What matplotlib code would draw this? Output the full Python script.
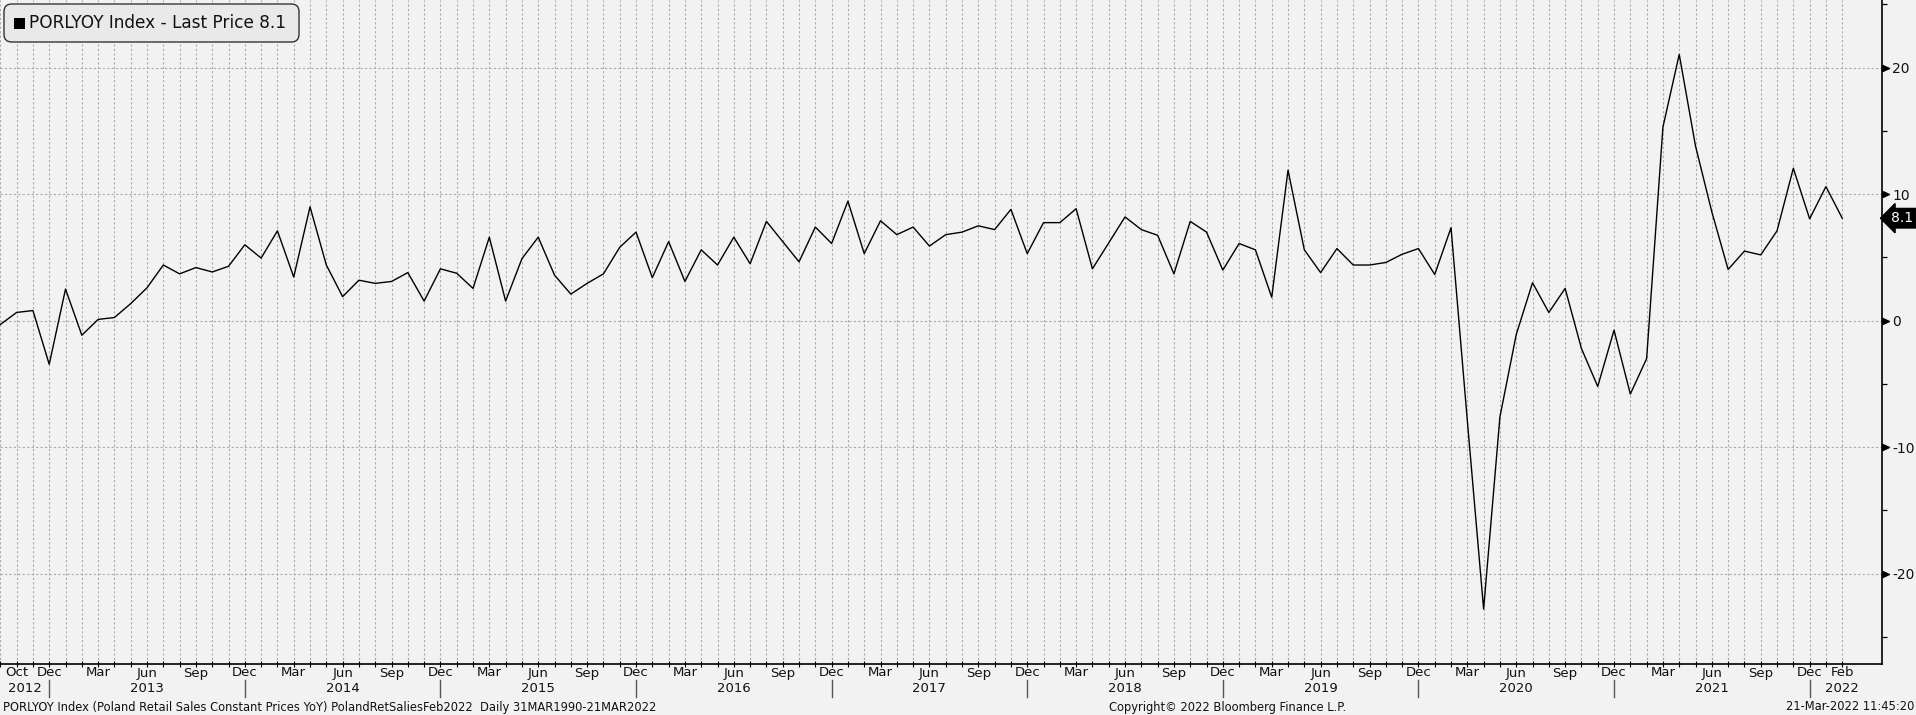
import matplotlib
matplotlib.use("Agg")
import matplotlib.pyplot as plt
import matplotlib.transforms as mtransforms
from matplotlib.path import Path
from matplotlib.patches import FancyBboxPatch, Rectangle
import numpy as np

# ---------------- data (Poland retail sales, constant prices, YoY %) ----------------
start_year, start_month = 2012, 9
y2012 = [-0.3, 0.65, 0.8, -3.45]
y2013 = [2.5, -1.15, 0.1, 0.25, 1.35, 2.6, 4.4, 3.7, 4.2, 3.85, 4.3, 6.0]
y2014 = [4.95, 7.1, 3.45, 9.0, 4.4, 1.9, 3.2, 2.95, 3.1, 3.8, 1.55, 4.1]
y2015 = [3.75, 2.55, 6.6, 1.55, 4.9, 6.6, 3.6, 2.1, 2.95, 3.7, 5.8, 7.0]
y2016 = [3.4, 6.25, 3.1, 5.6, 4.4, 6.6, 4.5, 7.85, 6.25, 4.65, 7.4, 6.1]
y2017 = [9.45, 5.3, 7.9, 6.8, 7.4, 5.9, 6.8, 7.0, 7.5, 7.2, 8.8, 5.3]
y2018 = [7.75, 7.75, 8.85, 4.1, 6.15, 8.2, 7.2, 6.75, 3.7, 7.85, 7.0, 4.0]
y2019 = [6.1, 5.6, 1.85, 11.9, 5.6, 3.8, 5.7, 4.4, 4.4, 4.6, 5.25, 5.7]
y2020 = [3.65, 7.35, -7.9, -22.8, -7.6, -1.1, 3.0, 0.65, 2.55, -2.2, -5.2, -0.75]
y2021 = [-5.8, -3.0, 15.3, 21.05, 13.8, 8.6, 4.05, 5.5, 5.2, 7.1, 12.05, 8.05]
y2022 = [10.6, 8.1]

month_names = ["Jan", "Feb", "Mar", "Apr", "May", "Jun",
               "Jul", "Aug", "Sep", "Oct", "Nov", "Dec"]
y_ticks = [-20, -10, 0, 10, 20]
last_price = 8.1
legend_label = "PORLYOY Index - Last Price 8.1"
footer_left = ("PORLYOY Index (Poland Retail Sales Constant Prices YoY) "
               "PolandRetSaliesFeb2022  Daily 31MAR1990-21MAR2022")
footer_mid = "Copyright\u00a9 2022 Bloomberg Finance L.P."
footer_right = "21-Mar-2022 11:45:20"

values = np.array(y2012 + y2013 + y2014 + y2015 + y2016 + y2017 +
                  y2018 + y2019 + y2020 + y2021 + y2022)
n = len(values)
idx = np.arange(n)
mon = [(start_month - 1 + i) % 12 + 1 for i in idx]
yr = [start_year + (start_month - 1 + i) // 12 for i in idx]

# ---------------- figure ----------------
W, H = 1916, 715
BG = "#f2f2f2"
TXT = "#111111"
fig = plt.figure(figsize=(W / 100, H / 100), dpi=100, facecolor=BG)
plt.rcParams["font.family"] = ["DejaVu Sans"]

ax_right_px, ax_bottom_px = 1882, 664
ax = fig.add_axes([0, (H - ax_bottom_px) / H, ax_right_px / W, ax_bottom_px / H])
ax.set_facecolor(BG)

ax.plot(idx, values, color="black", lw=1.0, zorder=3)

ax.set_xlim(-0.02, 115.44)
ax.set_ylim(-27.14, 25.35)

# grid
for i in idx:
    ax.axvline(i, color="#aaaaaa", lw=0.8, ls=(0, (2, 2)), zorder=1)
for v in y_ticks:
    ax.axhline(v, color="#aaaaaa", lw=0.8, ls=(0, (2, 2)), zorder=1)

# spines
for s in ["top", "left"]:
    ax.spines[s].set_visible(False)
for s in ["bottom", "right"]:
    ax.spines[s].set_color("black")
    ax.spines[s].set_linewidth(1.2)

# x ticks at every month (inout), no labels
ax.set_xticks(idx)
ax.set_xticklabels([])
ax.tick_params(axis="x", direction="inout", length=5, width=0.8, color="black")

# y ticks on the right
ax.yaxis.tick_right()
ax.set_yticks(y_ticks)
ax.set_yticklabels([str(v) for v in y_ticks])
ax.set_yticks([-25, -15, -5, 5, 15, 25], minor=True)
ax.tick_params(axis="y", which="major", length=0, pad=7.5, labelsize=10, labelcolor=TXT)
ax.tick_params(axis="y", which="minor", direction="out", length=3.5, width=0.9, color="black")

# triangular major tick markers
tri = Path([(0, -0.5), (1.1, 0), (0, 0.5), (0, -0.5)],
           [Path.MOVETO, Path.LINETO, Path.LINETO, Path.CLOSEPOLY])
trans_yr = mtransforms.blended_transform_factory(ax.transAxes, ax.transData)
ax.plot([1.0] * len(y_ticks), y_ticks, ls="none", marker=tri, ms=10,
        color="black", transform=trans_yr, clip_on=False, zorder=5)

# last price tag
ax.text(1.0, last_price, "8.1",
        transform=trans_yr + mtransforms.ScaledTranslation(9 / 100, 0, fig.dpi_scale_trans),
        color="white", fontsize=10, va="center", ha="left", clip_on=False,
        bbox=dict(boxstyle="larrow,pad=0.2", fc="black", ec="black"))

# x labels (month row, year row)
trans_xf = mtransforms.blended_transform_factory(ax.transData, fig.transFigure)
month_y = (H - 673) / H
year_y = (H - 689) / H
FS = 9.5
for i in idx:
    m, y = mon[i], yr[i]
    show = (i > 0 and m in (3, 6, 9, 12)) or i == 1 or i == n - 1
    if show:
        ax.text(i, month_y, month_names[m - 1], transform=trans_xf, ha="center",
                va="center", fontsize=FS, color=TXT, clip_on=False)
    if m == 12:
        ax.plot([i, i], [(H - 680) / H, (H - 697) / H], transform=trans_xf,
                color="#555555", lw=1.0, clip_on=False)
    if m == 6 and start_year < y < yr[-1]:
        ax.text(i, year_y, str(y), transform=trans_xf, ha="center", va="center",
                fontsize=FS, color=TXT, clip_on=False)
ax.text(1.5, year_y, str(start_year), transform=trans_xf, ha="center", va="center",
        fontsize=FS, color=TXT, clip_on=False)
ax.text(n - 1, year_y, str(yr[-1]), transform=trans_xf, ha="center", va="center",
        fontsize=FS, color=TXT, clip_on=False)

# legend box
lb = FancyBboxPatch((4 / W, (H - 42) / H), 295 / W, 38 / H,
                    boxstyle="round,pad=0,rounding_size=0.004",
                    transform=fig.transFigure, fc="#e9e9e9", ec="#333333", lw=1.0,
                    zorder=10, mutation_aspect=W / H)
fig.patches.append(lb)
fig.patches.append(Rectangle((14 / W, (H - 29) / H), 11 / W, 11 / H,
                             transform=fig.transFigure, fc="black", ec="none", zorder=11))
fig.text(29 / W, (H - 23) / H, legend_label, fontsize=12.2, va="center", ha="left",
         color=TXT, zorder=12)

# footer
fig.text(3 / W, (H - 707) / H, footer_left, fontsize=8.3, va="center", ha="left", color=TXT)
fig.text(1109 / W, (H - 707) / H, footer_mid, fontsize=8.3, va="center", ha="left", color=TXT)
fig.text(1914 / W, (H - 707) / H, footer_right, fontsize=8.3, va="center", ha="right", color=TXT)

fig.savefig("out.png", dpi=100, facecolor=BG)
